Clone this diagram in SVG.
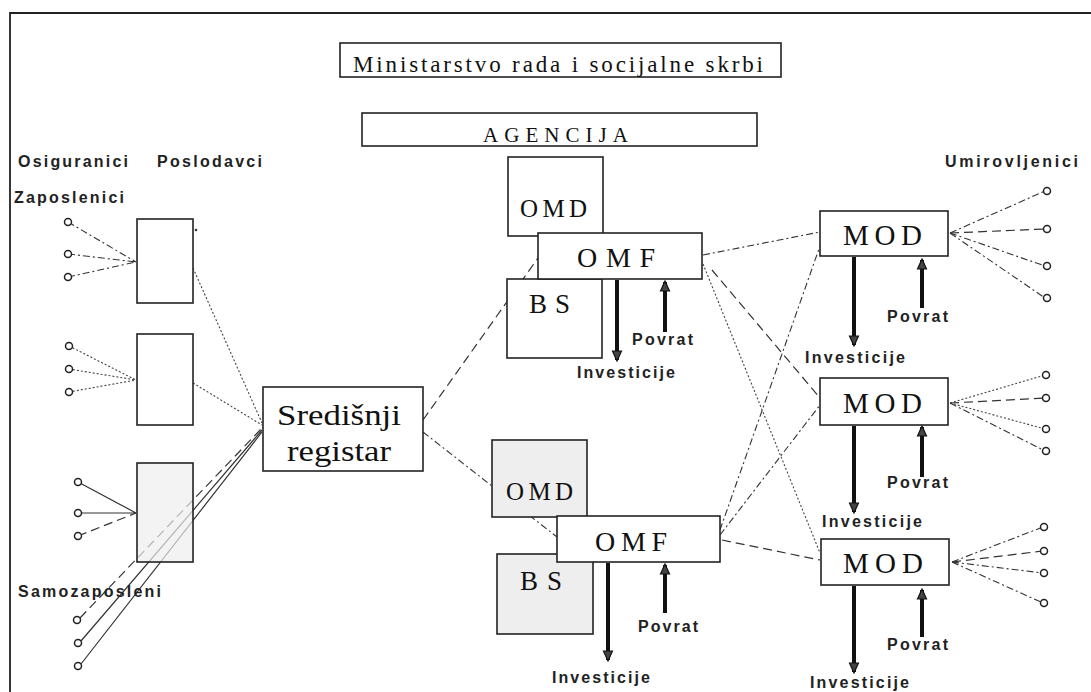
<svg xmlns="http://www.w3.org/2000/svg" width="1091" height="692" viewBox="0 0 1091 692">
<defs>
<style>
.box{fill:#fff;stroke:#222;stroke-width:1.6}
.shade{fill:#eeeeee;stroke:#222;stroke-width:1.6}
.big{font-family:"Liberation Serif",serif;fill:#111}
.lab{font-family:"Liberation Sans",sans-serif;font-weight:bold;font-size:16px;fill:#222}
.c{fill:#fff;stroke:#222;stroke-width:1.5}
.dot{stroke:#444;stroke-width:1.1;fill:none;stroke-dasharray:2 2}
.dash{stroke:#333;stroke-width:1.2;fill:none;stroke-dasharray:9 5}
.dd{stroke:#333;stroke-width:1.1;fill:none;stroke-dasharray:7 3 2 3}
.sol{stroke:#333;stroke-width:1.2;fill:none}
.shaft{stroke:#111;stroke-width:4;fill:none}
</style>
<marker id="ah" viewBox="0 0 12 12" refX="10" refY="6" markerWidth="12" markerHeight="12" markerUnits="userSpaceOnUse" orient="auto">
<path d="M1,1.5 L11,6 L1,10.5 Z" fill="#444" stroke="#111" stroke-width="1.2"/>
</marker>
</defs>
<rect width="1091" height="692" fill="#fff"/>
<path d="M10,692 L10,13 L1091,13" fill="none" stroke="#222" stroke-width="1.8"/>

<g id="connectors">
<path class="dd" d="M68,222 L136,262 M68,254 L136,262 M68,277 L136,262"/>
<path class="dot" d="M69,346 L136,380 M69,369 L136,380 M69,392 L136,380"/>
<path class="sol" d="M78,482 L136,513 M78,513 L136,513"/>
<path class="dash" d="M78,536 L136,513"/>
<path class="dot" d="M193,268 L262,423 M193,383 L262,425"/>
<path class="dash" d="M80,618 L262,428"/>
<path class="sol" d="M81,641 L262,430 M81,664 L262,432"/>
<path class="dash" d="M423,420 L538,258"/>
<path class="dd" d="M423,432 L557,537"/>
<path class="dd" d="M703,255 L820,232"/>
<path class="dash" d="M712,270 L820,398"/>
<path class="dot" d="M703,264 L820,553"/>
<path class="dd" d="M720,530 L820,246"/>
<path class="dd" d="M720,535 L820,405"/>
<path class="dash" d="M722,540 L820,560"/>
<path class="dd" d="M950,233 L1045,191 M950,233 L1045,266"/>
<path class="dash" d="M950,233 L1045,229"/>
<path class="dd" d="M950,233 L1045,298"/>
<path class="dot" d="M950,403 L1045,375 M950,403 L1045,429"/>
<path class="dash" d="M950,403 L1045,398"/>
<path class="dd" d="M950,403 L1045,451"/>
<path class="dd" d="M952,562 L1043,527 M952,562 L1043,573"/>
<path class="dash" d="M952,562 L1043,551"/>
<path class="dd" d="M952,562 L1043,603"/>
<path class="shaft" d="M617,280 L617,360" marker-end="url(#ah)"/>
<path class="shaft" d="M665,332 L665,282" marker-end="url(#ah)"/>
<path class="shaft" d="M608,563 L608,660" marker-end="url(#ah)"/>
<path class="shaft" d="M665,613 L665,565" marker-end="url(#ah)"/>
<path class="shaft" d="M854,257 L854,345" marker-end="url(#ah)"/>
<path class="shaft" d="M922,308 L922,260" marker-end="url(#ah)"/>
<path class="shaft" d="M854,426 L854,512" marker-end="url(#ah)"/>
<path class="shaft" d="M922,477 L922,427" marker-end="url(#ah)"/>
<path class="shaft" d="M854,586 L854,672" marker-end="url(#ah)"/>
<path class="shaft" d="M922,637 L922,590" marker-end="url(#ah)"/>
</g>

<g id="ministarstvo">
<rect class="box" x="340" y="43" width="441" height="34"/>
<text class="big" x="353" y="72" font-size="23" textLength="410" lengthAdjust="spacing">Ministarstvo rada i socijalne skrbi</text>
</g>
<g id="agencija">
<rect class="box" x="362" y="113" width="395" height="33"/>
<text class="big" x="483" y="142" font-size="21" textLength="145" lengthAdjust="spacing">AGENCIJA</text>
</g>

<g id="labels">
<text class="lab" x="18" y="167" textLength="110" lengthAdjust="spacing">Osiguranici</text>
<text class="lab" x="157" y="167" textLength="105" lengthAdjust="spacing">Poslodavci</text>
<text class="lab" x="14" y="203" textLength="110" lengthAdjust="spacing">Zaposlenici</text>
<text class="lab" x="18" y="597" textLength="143" lengthAdjust="spacing">Samozaposleni</text>
<text class="lab" x="945" y="167" textLength="133" lengthAdjust="spacing">Umirovljenici</text>
</g>

<g id="zaposlenici-circles">
<circle class="c" cx="68" cy="222" r="3.5"/>
<circle class="c" cx="68" cy="254" r="3.5"/>
<circle class="c" cx="68" cy="277" r="3.5"/>
<circle class="c" cx="69" cy="346" r="3.5"/>
<circle class="c" cx="69" cy="369" r="3.5"/>
<circle class="c" cx="69" cy="392" r="3.5"/>
<circle class="c" cx="78" cy="482" r="3.5"/>
<circle class="c" cx="78" cy="513" r="3.5"/>
<circle class="c" cx="78" cy="536" r="3.5"/>
</g>
<g id="samozaposleni-circles">
<circle class="c" cx="77" cy="620" r="3.5"/>
<circle class="c" cx="78" cy="643" r="3.5"/>
<circle class="c" cx="78" cy="666" r="3.5"/>
</g>
<g id="umirovljenici-circles">
<circle class="c" cx="1047" cy="191" r="3.5"/>
<circle class="c" cx="1047" cy="229" r="3.5"/>
<circle class="c" cx="1047" cy="266" r="3.5"/>
<circle class="c" cx="1047" cy="298" r="3.5"/>
<circle class="c" cx="1046" cy="375" r="3.5"/>
<circle class="c" cx="1046" cy="398" r="3.5"/>
<circle class="c" cx="1046" cy="429" r="3.5"/>
<circle class="c" cx="1046" cy="451" r="3.5"/>
<circle class="c" cx="1044" cy="527" r="3.5"/>
<circle class="c" cx="1044" cy="551" r="3.5"/>
<circle class="c" cx="1044" cy="573" r="3.5"/>
<circle class="c" cx="1044" cy="603" r="3.5"/>
</g>

<g id="poslodavac1"><rect class="box" x="137" y="219" width="56" height="84"/><circle cx="196" cy="230" r="1.3" fill="#333"/></g>
<g id="poslodavac2"><rect class="box" x="137" y="334" width="56" height="91"/></g>
<g id="poslodavac3"><rect class="shade" x="137" y="463" width="56" height="99" fill-opacity="0.7"/></g>

<g id="sredisnji-registar">
<rect class="box" x="263" y="387" width="160" height="84" fill="#fbfbfb"/>
<text class="big" x="277" y="425" font-size="29" textLength="124" lengthAdjust="spacingAndGlyphs">Središnji</text>
<text class="big" x="287" y="461" font-size="29" textLength="104" lengthAdjust="spacingAndGlyphs">registar</text>
</g>

<g id="omd1"><rect class="box" x="508" y="157" width="95" height="79"/>
<text class="big" x="520" y="217" font-size="25" textLength="67" lengthAdjust="spacing">OMD</text></g>
<g id="bs1"><rect class="box" x="507" y="279" width="95" height="79"/>
<text class="big" x="529" y="313" font-size="27" textLength="41" lengthAdjust="spacing">BS</text></g>
<g id="omf1"><rect class="box" x="538" y="233" width="164" height="46"/>
<text class="big" x="577" y="267" font-size="28" textLength="78" lengthAdjust="spacing">OMF</text></g>

<g id="omd2"><rect class="shade" x="492" y="440" width="95" height="77"/>
<text class="big" x="506" y="500" font-size="25" textLength="67" lengthAdjust="spacing">OMD</text></g>
<g id="bs2"><rect class="shade" x="497" y="554" width="96" height="80"/>
<text class="big" x="520" y="590" font-size="27" textLength="42" lengthAdjust="spacing">BS</text></g>
<g id="omf2"><rect class="box" x="557" y="516" width="163" height="46" fill="#f6f6f6"/>
<text class="big" x="595" y="551" font-size="28" textLength="72" lengthAdjust="spacing">OMF</text></g>

<g id="mod1"><rect class="box" x="820" y="211" width="128" height="45"/>
<text class="big" x="843" y="245" font-size="29" textLength="79" lengthAdjust="spacing">MOD</text></g>
<g id="mod2"><rect class="box" x="820" y="378" width="128" height="47"/>
<text class="big" x="843" y="413" font-size="29" textLength="79" lengthAdjust="spacing">MOD</text></g>
<g id="mod3"><rect class="box" x="821" y="539" width="128" height="46" fill="#fafafa"/>
<text class="big" x="843" y="573" font-size="29" textLength="80" lengthAdjust="spacing">MOD</text></g>

<g id="flow-labels">
<text class="lab" x="632" y="345" textLength="61" lengthAdjust="spacing">Povrat</text>
<text class="lab" x="577" y="378" textLength="98" lengthAdjust="spacing">Investicije</text>
<text class="lab" x="638" y="632" textLength="60" lengthAdjust="spacing">Povrat</text>
<text class="lab" x="552" y="683" textLength="98" lengthAdjust="spacing">Investicije</text>
<text class="lab" x="887" y="322" textLength="61" lengthAdjust="spacing">Povrat</text>
<text class="lab" x="805" y="363" textLength="100" lengthAdjust="spacing">Investicije</text>
<text class="lab" x="887" y="488" textLength="61" lengthAdjust="spacing">Povrat</text>
<text class="lab" x="822" y="527" textLength="100" lengthAdjust="spacing">Investicije</text>
<text class="lab" x="887" y="650" textLength="61" lengthAdjust="spacing">Povrat</text>
<text class="lab" x="810" y="688" textLength="99" lengthAdjust="spacing">Investicije</text>
</g>
</svg>
